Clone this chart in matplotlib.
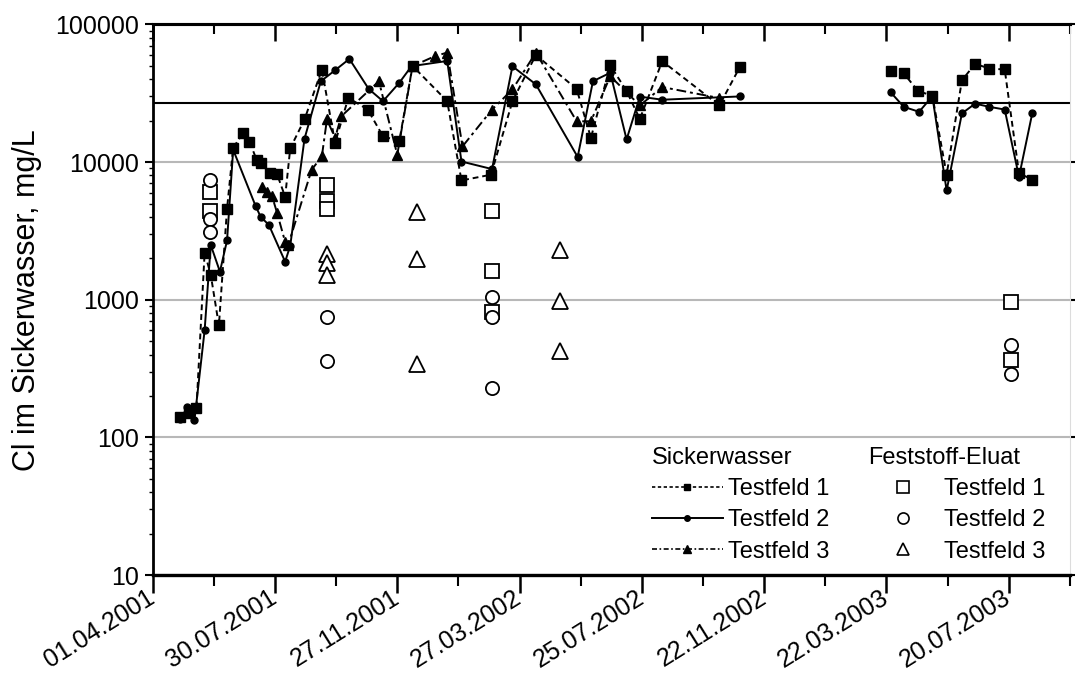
import matplotlib
matplotlib.use("Agg")
import matplotlib.pyplot as plt
import matplotlib.dates as mdates
from matplotlib.ticker import FixedLocator, FuncFormatter, LogLocator, NullFormatter
from matplotlib.lines import Line2D
from datetime import datetime, timedelta
import pandas as pd

plt.rcParams['font.family'] = ['Liberation Sans', 'DejaVu Sans']

# Sickerwasser, Testfeld 1 (2001/2002 and 2003 campaigns)
tf1_dates_a = ["2001-04-28", "2001-05-07", "2001-05-14", "2001-05-22", "2001-05-28", "2001-06-05",
               "2001-06-13", "2001-06-19", "2001-06-29", "2001-07-05", "2001-07-12", "2001-07-16",
               "2001-07-25", "2001-08-01", "2001-08-09", "2001-08-14", "2001-08-28", "2001-09-14",
               "2001-09-27", "2001-10-10", "2001-10-29", "2001-11-13", "2001-11-29", "2001-12-12",
               "2002-01-15", "2002-01-29", "2002-02-27", "2002-03-20", "2002-04-12", "2002-05-22",
               "2002-06-05", "2002-06-24", "2002-07-10", "2002-07-23", "2002-08-14", "2002-10-09",
               "2002-10-29"]
tf1_vals_a = [141, 150, 163, 2200, 1520, 650, 4600, 12700, 16400, 14100, 10400, 9900, 8300, 8200,
              5600, 12600, 20400, 47000, 13800, 29300, 24100, 15400, 14200, 50000, 27700, 7360,
              8100, 27700, 60000, 34000, 15000, 50600, 32800, 20600, 54100, 25800, 48900]
tf1_dates_b = ["2003-03-26", "2003-04-08", "2003-04-22", "2003-05-06", "2003-05-20", "2003-06-04",
               "2003-06-17", "2003-07-01", "2003-07-16", "2003-07-30", "2003-08-12"]
tf1_vals_b = [45800, 44100, 32800, 30400, 8100, 39300, 51800, 47800, 47100, 8300, 7470]

# Sickerwasser, Testfeld 2
tf2_dates_a = ["2001-04-28", "2001-05-05", "2001-05-12", "2001-05-22", "2001-05-28", "2001-06-06",
               "2001-06-13", "2001-06-19", "2001-07-11", "2001-07-16", "2001-07-24", "2001-08-09",
               "2001-08-14", "2001-08-28", "2001-09-13", "2001-09-27", "2001-10-11", "2001-10-30",
               "2001-11-13", "2001-11-29", "2001-12-11", "2002-01-15", "2002-01-29", "2002-02-28",
               "2002-03-20", "2002-04-12", "2002-05-23", "2002-06-07", "2002-06-24", "2002-07-10",
               "2002-07-23", "2002-08-14", "2002-10-29"]
tf2_vals_a = [135, 165, 133, 600, 2500, 1600, 2700, 12300, 4800, 4000, 3500, 1890, 2470, 14800,
              38700, 46500, 56200, 34000, 27700, 37700, 49800, 54300, 10100, 8900, 49700, 36700,
              10900, 38700, 44600, 14600, 29900, 28400, 30000]
tf2_dates_b = ["2003-03-26", "2003-04-08", "2003-04-23", "2003-05-06", "2003-05-20", "2003-06-04",
               "2003-06-17", "2003-07-01", "2003-07-16", "2003-07-30", "2003-08-12"]
tf2_vals_b = [32200, 25200, 23200, 30100, 6220, 22600, 26600, 25200, 24100, 7810, 22600]

# Sickerwasser, Testfeld 3
tf3_dates = ["2001-07-17", "2001-07-22", "2001-07-27", "2001-08-01", "2001-08-09", "2001-08-12",
             "2001-09-04", "2001-09-14", "2001-09-19", "2001-09-27", "2001-10-03", "2001-11-09",
             "2001-11-27", "2001-12-12", "2002-01-03", "2002-01-15", "2002-01-30", "2002-02-28",
             "2002-03-20", "2002-04-12", "2002-05-22", "2002-06-05", "2002-06-24", "2002-07-23",
             "2002-08-14", "2002-10-09"]
tf3_vals = [6640, 6100, 5700, 4300, 2630, 2500, 8800, 11000, 20400, 15000, 21500, 38700, 11300,
            49800, 58900, 62500, 13000, 24100, 33700, 62500, 19800, 19800, 42100, 25800, 35100,
            29200]

# Feststoff-Eluat
el1_dates = ["2001-05-27", "2001-05-27", "2001-09-19", "2001-09-19", "2001-09-19",
             "2002-02-28", "2002-02-28", "2002-02-28", "2003-07-22", "2003-07-22"]
el1_vals = [6050, 4450, 6770, 5190, 4530, 4450, 1610, 815, 955, 366]
el2_dates = ["2001-05-27", "2001-05-27", "2001-05-27", "2001-09-19", "2001-09-19",
             "2002-02-28", "2002-02-28", "2002-02-28", "2003-07-22", "2003-07-22"]
el2_vals = [7360, 3830, 3110, 755, 357, 1050, 750, 229, 470, 290]
el3_dates = ["2001-09-19", "2001-09-19", "2001-09-19", "2001-12-16", "2001-12-16", "2001-12-16",
             "2002-05-06", "2002-05-06", "2002-05-06"]
el3_vals = [2160, 1840, 1520, 4330, 1980, 344, 2300, 980, 425]

limit_value = 27000

start = datetime(2001, 4, 1)
major_dates = [start + timedelta(days=120 * i) for i in range(8)]
minor_dates = [start + timedelta(days=60 * i) for i in range(16)]
end = start + timedelta(days=900)

fig = plt.figure(figsize=(10.75, 6.8), dpi=100)
ax = fig.add_axes([0.142, 0.1544, 0.8533, 0.8096])

d = pd.to_datetime
dash1 = (3, 2)
dash3 = (5, 2, 1.5, 2)

for dates, vals in [(tf1_dates_a, tf1_vals_a), (tf1_dates_b, tf1_vals_b)]:
    ax.plot(d(dates), vals, color='black', lw=1.4, dashes=dash1, marker='s', ms=6.5)
for dates, vals in [(tf2_dates_a, tf2_vals_a), (tf2_dates_b, tf2_vals_b)]:
    ax.plot(d(dates), vals, color='black', lw=1.4, ls='-', marker='o', ms=5)
ax.plot(d(tf3_dates), tf3_vals, color='black', lw=1.4, dashes=dash3, marker='^', ms=7.5)

ax.plot(d(el1_dates), el1_vals, ls='none', marker='s', ms=9.5, mfc='white', mec='black', mew=1.3)
ax.plot(d(el2_dates), el2_vals, ls='none', marker='o', ms=9.5, mfc='white', mec='black', mew=1.3)
ax.plot(d(el3_dates), el3_vals, ls='none', marker='^', ms=11, mfc='white', mec='black', mew=1.3)

ax.axhline(limit_value, color='black', lw=1.5, zorder=1)

ax.set_yscale('log')
ax.set_ylim(10, 100000)
ax.set_xlim(start, end)

ax.yaxis.set_major_locator(FixedLocator([10, 100, 1000, 10000, 100000]))
ax.yaxis.set_major_formatter(FuncFormatter(lambda v, p: f"{int(round(v))}"))
ax.yaxis.set_minor_locator(LogLocator(base=10, subs=range(2, 10)))
ax.yaxis.set_minor_formatter(NullFormatter())
ax.yaxis.grid(True, which='major', color='#b8b8b8', lw=1.5, zorder=0)
ax.set_axisbelow(True)

ax.xaxis.set_major_locator(FixedLocator(mdates.date2num(major_dates)))
ax.xaxis.set_minor_locator(FixedLocator(mdates.date2num(minor_dates)))
ax.xaxis.set_major_formatter(mdates.DateFormatter('%d.%m.%Y'))

ax.tick_params(axis='y', which='major', direction='out', length=6, width=1.5,
               labelsize=18, left=True, right=True, pad=4)
ax.tick_params(axis='y', which='minor', direction='out', length=3, width=1,
               left=True, right=False)
ax.tick_params(axis='x', which='major', direction='out', length=13, width=1.8,
               labelsize=18, pad=2)
ax.tick_params(axis='x', which='minor', direction='out', length=8, width=1.5)
for lab in ax.get_xticklabels():
    lab.set_rotation(32)
    lab.set_ha('right')
    lab.set_va('center')
    lab.set_rotation_mode('anchor')

top = ax.secondary_xaxis('top')
top.xaxis.set_major_locator(FixedLocator(mdates.date2num(major_dates)))
top.xaxis.set_minor_locator(FixedLocator(mdates.date2num(minor_dates)))
top.tick_params(which='major', direction='in', length=12, width=1.8, labeltop=False)
top.tick_params(which='minor', direction='in', length=7, width=1.5)
top.spines['top'].set_linewidth(2.2)

for side, lw in [('top', 2.2), ('bottom', 2.4), ('left', 2.0)]:
    ax.spines[side].set_linewidth(lw)
ax.spines['right'].set_color('#dcdcdc')
ax.spines['right'].set_linewidth(0.8)

ax.set_ylabel('Cl im Sickerwasser, mg/L', fontsize=22, labelpad=9)

# legends
h1 = [Line2D([], [], color='black', lw=1.2, dashes=(2, 1.5), marker='s', ms=5),
      Line2D([], [], color='black', lw=1.4, ls='-', marker='o', ms=4),
      Line2D([], [], color='black', lw=1.2, dashes=(3, 1.5, 1, 1.5), marker='^', ms=6)]
h2 = [Line2D([], [], ls='none', marker='s', ms=8, mfc='white', mec='black', mew=1.2),
      Line2D([], [], ls='none', marker='o', ms=8, mfc='white', mec='black', mew=1.2),
      Line2D([], [], ls='none', marker='^', ms=9, mfc='white', mec='black', mew=1.2)]
labels = ['Testfeld 1', 'Testfeld 2', 'Testfeld 3']
common = dict(frameon=False, fontsize=17, title_fontsize=17, handlelength=3.0,
              handletextpad=0.2, labelspacing=0.39, borderpad=0, borderaxespad=0,
              numpoints=1, loc='upper left', alignment='left')
leg1 = ax.legend(h1, labels, title='Sickerwasser', bbox_to_anchor=(652 / 1075, 1 - 447 / 680),
                 bbox_transform=fig.transFigure, **common)
ax.add_artist(leg1)
leg2 = ax.legend(h2, labels, title='Feststoff-Eluat', bbox_to_anchor=(868 / 1075, 1 - 447 / 680),
                 bbox_transform=fig.transFigure, **common)

fig.savefig('out.png', dpi=100, facecolor='white')
